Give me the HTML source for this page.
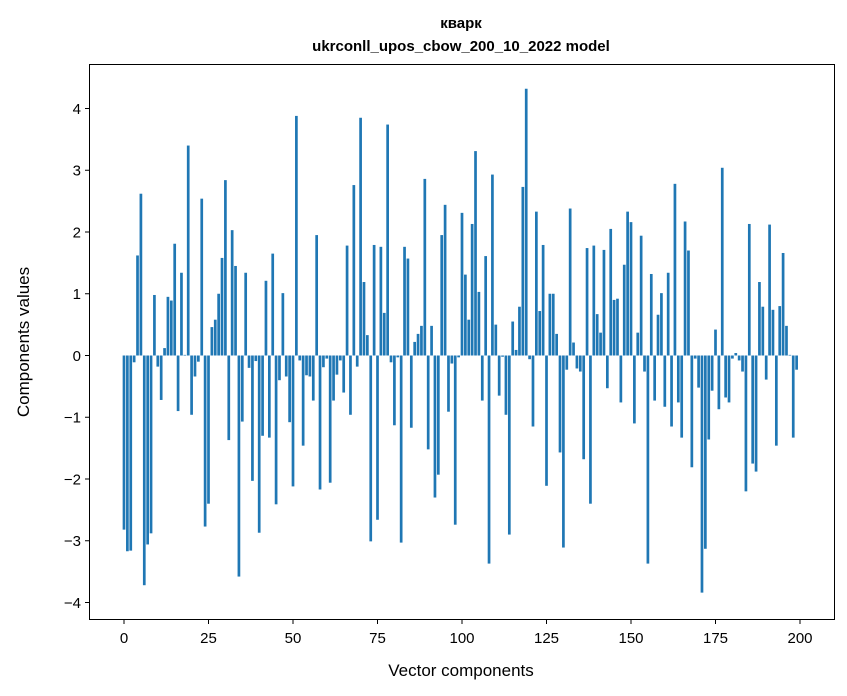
<!DOCTYPE html>
<html><head><meta charset="utf-8"><style>body{margin:0;background:#fff}svg{display:block}text{font-family:"Liberation Sans","DejaVu Sans",sans-serif;fill:#000}</style></head>
<body>
<svg width="847" height="696" viewBox="0 0 847 696" xmlns="http://www.w3.org/2000/svg">
<rect width="847" height="696" fill="#fff"/>
<text x="461" y="28" font-size="15" font-weight="bold" text-anchor="middle">кварк</text>
<text x="461" y="51" font-size="15" font-weight="bold" text-anchor="middle">ukrconll_upos_cbow_200_10_2022 model</text>
<g transform="translate(124,355.5) scale(3.38,-61.75)" fill="#1f77b4">
<rect x="-0.4" y="-2.82" width="0.8" height="2.82"/><rect x="0.6" y="-3.17" width="0.8" height="3.17"/><rect x="1.6" y="-3.16" width="0.8" height="3.16"/><rect x="2.6" y="-0.11" width="0.8" height="0.11"/><rect x="3.6" y="0" width="0.8" height="1.62"/><rect x="4.6" y="0" width="0.8" height="2.62"/><rect x="5.6" y="-3.72" width="0.8" height="3.72"/><rect x="6.6" y="-3.06" width="0.8" height="3.06"/><rect x="7.6" y="-2.88" width="0.8" height="2.88"/><rect x="8.6" y="0" width="0.8" height="0.98"/>
<rect x="9.6" y="-0.18" width="0.8" height="0.18"/><rect x="10.6" y="-0.72" width="0.8" height="0.72"/><rect x="11.6" y="0" width="0.8" height="0.12"/><rect x="12.6" y="0" width="0.8" height="0.95"/><rect x="13.6" y="0" width="0.8" height="0.89"/><rect x="14.6" y="0" width="0.8" height="1.81"/><rect x="15.6" y="-0.9" width="0.8" height="0.9"/><rect x="16.6" y="0" width="0.8" height="1.34"/><rect x="17.6" y="0" width="0.8" height="0.01"/><rect x="18.6" y="0" width="0.8" height="3.4"/>
<rect x="19.6" y="-0.96" width="0.8" height="0.96"/><rect x="20.6" y="-0.34" width="0.8" height="0.34"/><rect x="21.6" y="-0.1" width="0.8" height="0.1"/><rect x="22.6" y="0" width="0.8" height="2.54"/><rect x="23.6" y="-2.77" width="0.8" height="2.77"/><rect x="24.6" y="-2.4" width="0.8" height="2.4"/><rect x="25.6" y="0" width="0.8" height="0.46"/><rect x="26.6" y="0" width="0.8" height="0.58"/><rect x="27.6" y="0" width="0.8" height="1.0"/><rect x="28.6" y="0" width="0.8" height="1.58"/>
<rect x="29.6" y="0" width="0.8" height="2.84"/><rect x="30.6" y="-1.37" width="0.8" height="1.37"/><rect x="31.6" y="0" width="0.8" height="2.03"/><rect x="32.6" y="0" width="0.8" height="1.45"/><rect x="33.6" y="-3.58" width="0.8" height="3.58"/><rect x="34.6" y="-1.07" width="0.8" height="1.07"/><rect x="35.6" y="0" width="0.8" height="1.34"/><rect x="36.6" y="-0.2" width="0.8" height="0.2"/><rect x="37.6" y="-2.03" width="0.8" height="2.03"/><rect x="38.6" y="-0.09" width="0.8" height="0.09"/>
<rect x="39.6" y="-2.87" width="0.8" height="2.87"/><rect x="40.6" y="-1.3" width="0.8" height="1.3"/><rect x="41.6" y="0" width="0.8" height="1.21"/><rect x="42.6" y="-1.33" width="0.8" height="1.33"/><rect x="43.6" y="0" width="0.8" height="1.65"/><rect x="44.6" y="-2.41" width="0.8" height="2.41"/><rect x="45.6" y="-0.4" width="0.8" height="0.4"/><rect x="46.6" y="0" width="0.8" height="1.01"/><rect x="47.6" y="-0.34" width="0.8" height="0.34"/><rect x="48.6" y="-1.08" width="0.8" height="1.08"/>
<rect x="49.6" y="-2.12" width="0.8" height="2.12"/><rect x="50.6" y="0" width="0.8" height="3.88"/><rect x="51.6" y="-0.08" width="0.8" height="0.08"/><rect x="52.6" y="-1.46" width="0.8" height="1.46"/><rect x="53.6" y="-0.32" width="0.8" height="0.32"/><rect x="54.6" y="-0.34" width="0.8" height="0.34"/><rect x="55.6" y="-0.73" width="0.8" height="0.73"/><rect x="56.6" y="0" width="0.8" height="1.95"/><rect x="57.6" y="-2.17" width="0.8" height="2.17"/><rect x="58.6" y="-0.19" width="0.8" height="0.19"/>
<rect x="59.6" y="-0.05" width="0.8" height="0.05"/><rect x="60.6" y="-2.06" width="0.8" height="2.06"/><rect x="61.6" y="-0.73" width="0.8" height="0.73"/><rect x="62.6" y="-0.31" width="0.8" height="0.31"/><rect x="63.6" y="-0.08" width="0.8" height="0.08"/><rect x="64.6" y="-0.6" width="0.8" height="0.6"/><rect x="65.6" y="0" width="0.8" height="1.78"/><rect x="66.6" y="-0.96" width="0.8" height="0.96"/><rect x="67.6" y="0" width="0.8" height="2.76"/><rect x="68.6" y="-0.18" width="0.8" height="0.18"/>
<rect x="69.6" y="0" width="0.8" height="3.85"/><rect x="70.6" y="0" width="0.8" height="1.19"/><rect x="71.6" y="0" width="0.8" height="0.33"/><rect x="72.6" y="-3.01" width="0.8" height="3.01"/><rect x="73.6" y="0" width="0.8" height="1.79"/><rect x="74.6" y="-2.66" width="0.8" height="2.66"/><rect x="75.6" y="0" width="0.8" height="1.76"/><rect x="76.6" y="0" width="0.8" height="0.69"/><rect x="77.6" y="0" width="0.8" height="3.74"/><rect x="78.6" y="-0.11" width="0.8" height="0.11"/>
<rect x="79.6" y="-1.13" width="0.8" height="1.13"/><rect x="80.6" y="-0.03" width="0.8" height="0.03"/><rect x="81.6" y="-3.03" width="0.8" height="3.03"/><rect x="82.6" y="0" width="0.8" height="1.76"/><rect x="83.6" y="0" width="0.8" height="1.57"/><rect x="84.6" y="-1.17" width="0.8" height="1.17"/><rect x="85.6" y="0" width="0.8" height="0.22"/><rect x="86.6" y="0" width="0.8" height="0.35"/><rect x="87.6" y="0" width="0.8" height="0.48"/><rect x="88.6" y="0" width="0.8" height="2.86"/>
<rect x="89.6" y="-1.52" width="0.8" height="1.52"/><rect x="90.6" y="0" width="0.8" height="0.48"/><rect x="91.6" y="-2.3" width="0.8" height="2.3"/><rect x="92.6" y="-1.93" width="0.8" height="1.93"/><rect x="93.6" y="0" width="0.8" height="1.95"/><rect x="94.6" y="0" width="0.8" height="2.44"/><rect x="95.6" y="-0.91" width="0.8" height="0.91"/><rect x="96.6" y="-0.13" width="0.8" height="0.13"/><rect x="97.6" y="-2.74" width="0.8" height="2.74"/><rect x="98.6" y="-0.03" width="0.8" height="0.03"/>
<rect x="99.6" y="0" width="0.8" height="2.31"/><rect x="100.6" y="0" width="0.8" height="1.31"/><rect x="101.6" y="0" width="0.8" height="0.58"/><rect x="102.6" y="0" width="0.8" height="2.13"/><rect x="103.6" y="0" width="0.8" height="3.31"/><rect x="104.6" y="0" width="0.8" height="1.03"/><rect x="105.6" y="-0.73" width="0.8" height="0.73"/><rect x="106.6" y="0" width="0.8" height="1.61"/><rect x="107.6" y="-3.37" width="0.8" height="3.37"/><rect x="108.6" y="0" width="0.8" height="2.93"/>
<rect x="109.6" y="0" width="0.8" height="0.5"/><rect x="110.6" y="-0.65" width="0.8" height="0.65"/><rect x="111.6" y="-0.02" width="0.8" height="0.02"/><rect x="112.6" y="-0.96" width="0.8" height="0.96"/><rect x="113.6" y="-2.9" width="0.8" height="2.9"/><rect x="114.6" y="0" width="0.8" height="0.55"/><rect x="115.6" y="0" width="0.8" height="0.09"/><rect x="116.6" y="0" width="0.8" height="0.79"/><rect x="117.6" y="0" width="0.8" height="2.73"/><rect x="118.6" y="0" width="0.8" height="4.32"/>
<rect x="119.6" y="-0.06" width="0.8" height="0.06"/><rect x="120.6" y="-1.15" width="0.8" height="1.15"/><rect x="121.6" y="0" width="0.8" height="2.33"/><rect x="122.6" y="0" width="0.8" height="0.72"/><rect x="123.6" y="0" width="0.8" height="1.79"/><rect x="124.6" y="-2.11" width="0.8" height="2.11"/><rect x="125.6" y="0" width="0.8" height="1.0"/><rect x="126.6" y="0" width="0.8" height="1.0"/><rect x="127.6" y="0" width="0.8" height="0.35"/><rect x="128.6" y="-1.57" width="0.8" height="1.57"/>
<rect x="129.6" y="-3.11" width="0.8" height="3.11"/><rect x="130.6" y="-0.23" width="0.8" height="0.23"/><rect x="131.6" y="0" width="0.8" height="2.38"/><rect x="132.6" y="0" width="0.8" height="0.21"/><rect x="133.6" y="-0.21" width="0.8" height="0.21"/><rect x="134.6" y="-0.26" width="0.8" height="0.26"/><rect x="135.6" y="-1.68" width="0.8" height="1.68"/><rect x="136.6" y="0" width="0.8" height="1.74"/><rect x="137.6" y="-2.4" width="0.8" height="2.4"/><rect x="138.6" y="0" width="0.8" height="1.78"/>
<rect x="139.6" y="0" width="0.8" height="0.67"/><rect x="140.6" y="0" width="0.8" height="0.37"/><rect x="141.6" y="0" width="0.8" height="1.71"/><rect x="142.6" y="-0.53" width="0.8" height="0.53"/><rect x="143.6" y="0" width="0.8" height="2.05"/><rect x="144.6" y="0" width="0.8" height="0.9"/><rect x="145.6" y="0" width="0.8" height="0.92"/><rect x="146.6" y="-0.76" width="0.8" height="0.76"/><rect x="147.6" y="0" width="0.8" height="1.47"/><rect x="148.6" y="0" width="0.8" height="2.33"/>
<rect x="149.6" y="0" width="0.8" height="2.16"/><rect x="150.6" y="-1.1" width="0.8" height="1.1"/><rect x="151.6" y="0" width="0.8" height="0.37"/><rect x="152.6" y="0" width="0.8" height="1.94"/><rect x="153.6" y="-0.26" width="0.8" height="0.26"/><rect x="154.6" y="-3.37" width="0.8" height="3.37"/><rect x="155.6" y="0" width="0.8" height="1.32"/><rect x="156.6" y="-0.73" width="0.8" height="0.73"/><rect x="157.6" y="0" width="0.8" height="0.66"/><rect x="158.6" y="0" width="0.8" height="1.01"/>
<rect x="159.6" y="-0.83" width="0.8" height="0.83"/><rect x="160.6" y="0" width="0.8" height="1.34"/><rect x="161.6" y="-1.15" width="0.8" height="1.15"/><rect x="162.6" y="0" width="0.8" height="2.78"/><rect x="163.6" y="-0.76" width="0.8" height="0.76"/><rect x="164.6" y="-1.33" width="0.8" height="1.33"/><rect x="165.6" y="0" width="0.8" height="2.17"/><rect x="166.6" y="0" width="0.8" height="1.7"/><rect x="167.6" y="-1.81" width="0.8" height="1.81"/><rect x="168.6" y="-0.05" width="0.8" height="0.05"/>
<rect x="169.6" y="-0.52" width="0.8" height="0.52"/><rect x="170.6" y="-3.84" width="0.8" height="3.84"/><rect x="171.6" y="-3.13" width="0.8" height="3.13"/><rect x="172.6" y="-1.36" width="0.8" height="1.36"/><rect x="173.6" y="-0.57" width="0.8" height="0.57"/><rect x="174.6" y="0" width="0.8" height="0.42"/><rect x="175.6" y="-0.87" width="0.8" height="0.87"/><rect x="176.6" y="0" width="0.8" height="3.04"/><rect x="177.6" y="-0.68" width="0.8" height="0.68"/><rect x="178.6" y="-0.76" width="0.8" height="0.76"/>
<rect x="179.6" y="-0.05" width="0.8" height="0.05"/><rect x="180.6" y="0" width="0.8" height="0.04"/><rect x="181.6" y="-0.08" width="0.8" height="0.08"/><rect x="182.6" y="-0.26" width="0.8" height="0.26"/><rect x="183.6" y="-2.2" width="0.8" height="2.2"/><rect x="184.6" y="0" width="0.8" height="2.13"/><rect x="185.6" y="-1.75" width="0.8" height="1.75"/><rect x="186.6" y="-1.88" width="0.8" height="1.88"/><rect x="187.6" y="0" width="0.8" height="1.19"/><rect x="188.6" y="0" width="0.8" height="0.79"/>
<rect x="189.6" y="-0.39" width="0.8" height="0.39"/><rect x="190.6" y="0" width="0.8" height="2.12"/><rect x="191.6" y="0" width="0.8" height="0.74"/><rect x="192.6" y="-1.46" width="0.8" height="1.46"/><rect x="193.6" y="0" width="0.8" height="0.8"/><rect x="194.6" y="0" width="0.8" height="1.66"/><rect x="195.6" y="0" width="0.8" height="0.48"/><rect x="196.6" y="0" width="0.8" height="0.01"/><rect x="197.6" y="-1.33" width="0.8" height="1.33"/><rect x="198.6" y="-0.23" width="0.8" height="0.23"/>
</g>
<rect x="89.5" y="64.5" width="745" height="555" fill="none" stroke="#000" stroke-width="1"/>
<g stroke="#000" stroke-width="1">
<line x1="124" y1="619.5" x2="124" y2="624"/><line x1="208.5" y1="619.5" x2="208.5" y2="624"/><line x1="293" y1="619.5" x2="293" y2="624"/><line x1="377.5" y1="619.5" x2="377.5" y2="624"/><line x1="462" y1="619.5" x2="462" y2="624"/><line x1="546.5" y1="619.5" x2="546.5" y2="624"/><line x1="631" y1="619.5" x2="631" y2="624"/><line x1="715.5" y1="619.5" x2="715.5" y2="624"/><line x1="800" y1="619.5" x2="800" y2="624"/>
<line x1="85" y1="108.5" x2="89.5" y2="108.5"/><line x1="85" y1="170.25" x2="89.5" y2="170.25"/><line x1="85" y1="232" x2="89.5" y2="232"/><line x1="85" y1="293.75" x2="89.5" y2="293.75"/><line x1="85" y1="355.5" x2="89.5" y2="355.5"/><line x1="85" y1="417.25" x2="89.5" y2="417.25"/><line x1="85" y1="479" x2="89.5" y2="479"/><line x1="85" y1="540.75" x2="89.5" y2="540.75"/><line x1="85" y1="602.5" x2="89.5" y2="602.5"/>
</g>
<g font-size="15" text-anchor="middle">
<text x="124" y="643">0</text><text x="208.5" y="643">25</text><text x="293" y="643">50</text><text x="377.5" y="643">75</text><text x="462" y="643">100</text><text x="546.5" y="643">125</text><text x="631" y="643">150</text><text x="715.5" y="643">175</text><text x="800" y="643">200</text>
</g>
<g font-size="15" text-anchor="end">
<text x="81" y="114">4</text><text x="81" y="175.5">3</text><text x="81" y="237.5">2</text><text x="81" y="299">1</text><text x="81" y="361">0</text><text x="81" y="422.5">−1</text><text x="81" y="484.5">−2</text><text x="81" y="546">−3</text><text x="81" y="608">−4</text>
</g>
<text x="461" y="676" font-size="17" text-anchor="middle">Vector components</text>
<text transform="translate(29,342) rotate(-90)" font-size="17" text-anchor="middle">Components values</text>
</svg>
</body></html>
